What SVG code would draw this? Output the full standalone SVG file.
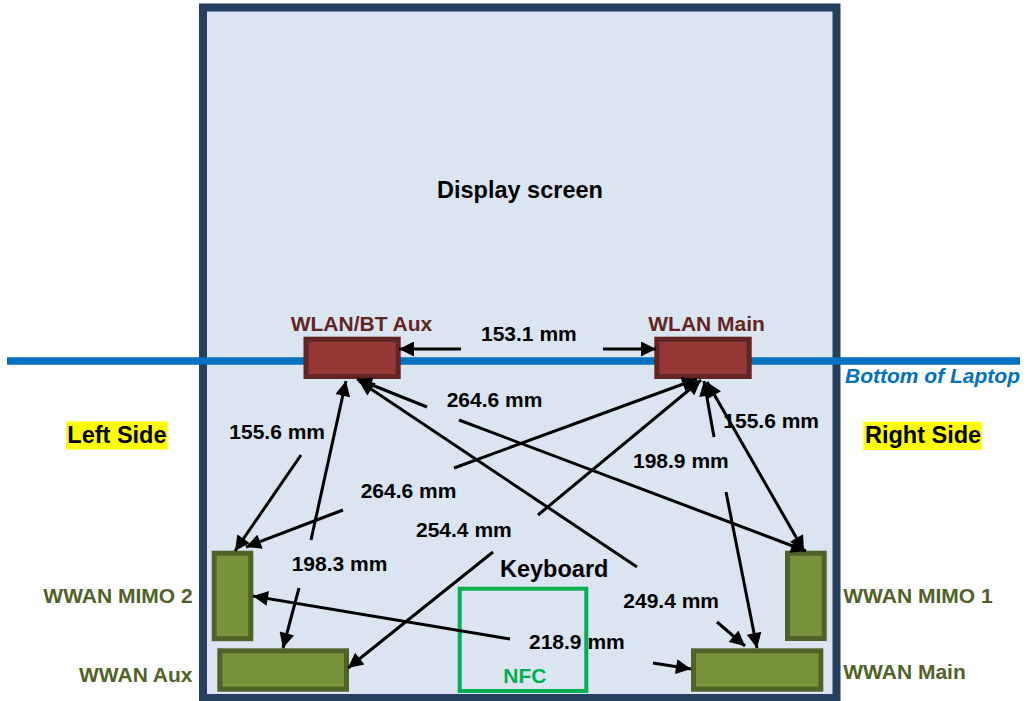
<svg xmlns="http://www.w3.org/2000/svg" width="1027" height="701" viewBox="0 0 1027 701">
<style>
text{font-family:"Liberation Sans",Arial,sans-serif;font-weight:bold}
.big{font-size:23.5px;fill:#000}
.dim{font-size:21px;fill:#000}
.wlan{font-size:21px;fill:#632523}
.wwan{font-size:21px;fill:#4F6228}
.wl{fill:#953735;stroke:#632523;stroke-width:5}
.ww{fill:#77933C;stroke:#4F6228;stroke-width:5}
.cn line{stroke:#000;stroke-width:3;marker-end:url(#ah)}
</style>
<defs>
<marker id="ah" viewBox="0 0 10 10" refX="10" refY="5" markerWidth="17" markerHeight="15" markerUnits="userSpaceOnUse" orient="auto-start-reverse">
<path d="M0,0 L10,5 L0,10 z" fill="#000"/>
</marker>
</defs>
<rect width="1027" height="701" fill="#fff"/>
<g id="laptop">
<rect x="203" y="7.5" width="633.5" height="690.5" fill="#DBE5F1" stroke="#243F60" stroke-width="8"/>
</g>
<g id="bottom-line">
<line x1="7" y1="361" x2="1020" y2="361" stroke="#0070C0" stroke-width="7.5"/>
<text x="1020" y="382.7" text-anchor="end" style="font-size:21px;font-style:italic;fill:#0070C0">Bottom of Laptop</text>
</g>
<g id="display"><text class="big" x="437" y="198.3">Display screen</text></g>
<g id="keyboard"><text class="big" x="500" y="577.3">Keyboard</text></g>
<g id="left-side"><rect x="66" y="421.5" width="101.5" height="28" fill="#FFFF00"/><text class="big" x="67.3" y="443.3">Left Side</text></g>
<g id="right-side"><rect x="863.3" y="421.7" width="118.4" height="28.3" fill="#FFFF00"/><text class="big" x="865" y="443.3">Right Side</text></g>
<g id="wlan-bt-aux"><rect class="wl" x="306" y="339.2" width="92.2" height="37.3"/><text class="wlan" x="290.7" y="330.7">WLAN/BT Aux</text></g>
<g id="wlan-main"><rect class="wl" x="656.8" y="339.2" width="92.4" height="37.3"/><text class="wlan" x="648.3" y="330.7">WLAN Main</text></g>
<g id="wwan-mimo2"><rect class="ww" x="214.2" y="553.2" width="36.6" height="85.5"/><text class="wwan" x="192.7" y="602.7" text-anchor="end">WWAN MIMO 2</text></g>
<g id="wwan-aux"><rect class="ww" x="219.8" y="650.8" width="126.7" height="38.4"/><text class="wwan" x="79" y="681.7">WWAN Aux</text></g>
<g id="wwan-mimo1"><rect class="ww" x="787.5" y="553.2" width="36.7" height="85.3"/><text class="wwan" x="843.3" y="602.7">WWAN MIMO 1</text></g>
<g id="wwan-main"><rect class="ww" x="693.5" y="650.8" width="127.3" height="38.4"/><text class="wwan" x="843.3" y="679.3">WWAN Main</text></g>
<g id="nfc"><rect x="459.7" y="588.7" width="126.6" height="102.3" fill="none" stroke="#00B050" stroke-width="4"/><text x="503.3" y="682.7" style="font-size:21px;fill:#00B050">NFC</text></g>
<g id="connectors" class="cn">
<line x1="461" y1="349" x2="399" y2="349"/>
<line x1="603" y1="349" x2="656" y2="349"/>
<line x1="301" y1="455" x2="235" y2="551"/>
<line x1="311" y1="540" x2="346" y2="381"/>
<line x1="299" y1="588" x2="283" y2="648"/>
<line x1="427" y1="407" x2="357" y2="379"/>
<line x1="459" y1="420" x2="806" y2="551"/>
<line x1="454" y1="468" x2="697" y2="379"/>
<line x1="343" y1="510" x2="246" y2="547"/>
<line x1="538" y1="515" x2="701" y2="380"/>
<line x1="493" y1="552" x2="348" y2="668"/>
<line x1="637" y1="567" x2="359" y2="381"/>
<line x1="717" y1="622" x2="745" y2="646"/>
<line x1="510" y1="639" x2="253" y2="596"/>
<line x1="653" y1="663" x2="691" y2="669"/>
<line x1="714" y1="437" x2="704" y2="381"/>
<line x1="726" y1="492" x2="757" y2="648"/>
<line x1="707" y1="382" x2="804" y2="551" style="marker-start:url(#ah)"/>
</g>
<g id="labels">
<text class="dim" x="481" y="340.7">153.1 mm</text>
<text class="dim" x="446.7" y="406.7">264.6 mm</text>
<text class="dim" x="229.3" y="439.3">155.6 mm</text>
<text class="dim" x="360.7" y="498">264.6 mm</text>
<text class="dim" x="416" y="537.2">254.4 mm</text>
<text class="dim" x="291.7" y="571">198.3 mm</text>
<text class="dim" x="529" y="649">218.9 mm</text>
<text class="dim" x="623.3" y="608.3">249.4 mm</text>
<text class="dim" x="633" y="467.5">198.9 mm</text>
<text class="dim" x="723.3" y="428.3">155.6 mm</text>
</g>
</svg>
